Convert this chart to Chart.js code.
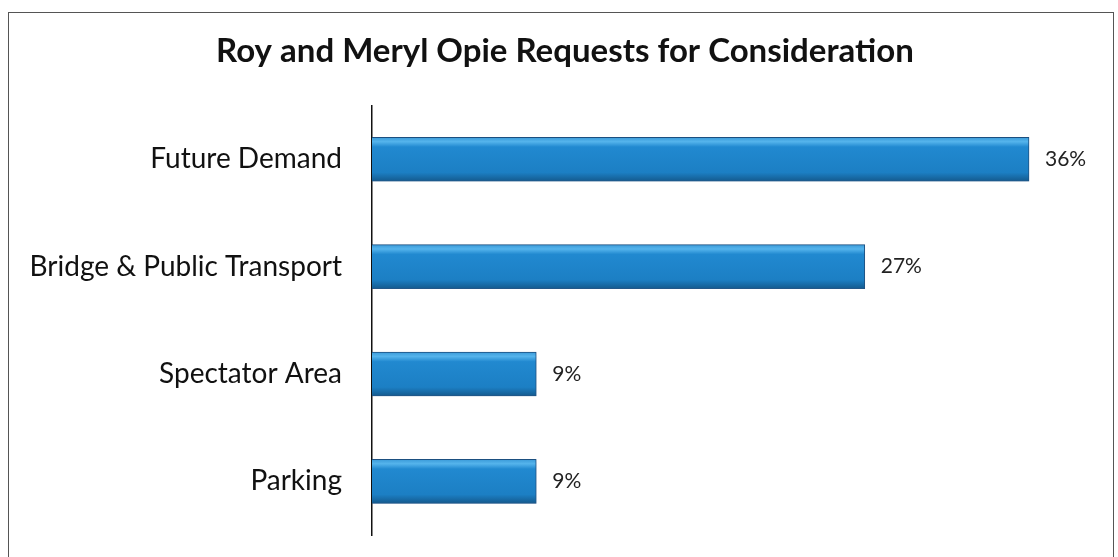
<!DOCTYPE html>
<html>
<head>
<meta charset="utf-8">
<script src="https://cdn.jsdelivr.net/npm/chart.js@4.4.0/dist/chart.umd.min.js"></script>
<style>
  html,body{margin:0;padding:0;background:#fff;}
  #wrap{position:relative;width:1118px;height:557px;overflow:hidden;}
  #frame{position:absolute;left:8px;top:12px;width:1106px;height:600px;border:1px solid #555;box-sizing:border-box;}
  canvas{position:absolute;left:0;top:0;}
</style>
</head>
<body>
<div id="wrap">
  <div id="frame"></div>
  <canvas id="c" width="1118" height="557"></canvas>
</div>
<script>
const titleText = "Roy and Meryl Opie Requests for Consideration";
const categories = ["Future Demand", "Bridge & Public Transport", "Spectator Area", "Parking"];
const values = [36, 27, 9, 9];
const valueLabels = ["36%", "27%", "9%", "9%"];
const axisMax = 40;

const FONT = "Lato, 'Open Sans', sans-serif";
const BAR_H = 44;

const barFill = (ctx) => {
  const chart = ctx.chart;
  const ys = chart.scales && chart.scales.y;
  if (!ys || ctx.dataIndex === undefined) return '#1f82c8';
  const cy = ys.getPixelForValue(ctx.dataIndex);
  if (!isFinite(cy)) return '#1f82c8';
  const top = cy - BAR_H / 2, bot = cy + BAR_H / 2;
  const g = chart.ctx.createLinearGradient(0, top, 0, bot);
  g.addColorStop(0, '#3a9ad8');
  g.addColorStop(0.1, '#55b4ec');
  g.addColorStop(0.22, '#2189d0');
  g.addColorStop(0.8, '#1c7fc4');
  g.addColorStop(1, '#145a8e');
  return g;
};

const labelPlugin = {
  id: 'valueLabels',
  afterDatasetsDraw(chart) {
    const ctx = chart.ctx;
    const meta = chart.getDatasetMeta(0);
    ctx.save();
    ctx.font = "21px " + FONT;
    ctx.fillStyle = '#222';
    ctx.textBaseline = 'middle';
    ctx.textAlign = 'left';
    meta.data.forEach((bar, i) => {
      ctx.fillText(valueLabels[i], bar.x + 16, bar.y);
    });
    ctx.restore();
  }
};

const shadowPlugin = {
  id: 'barShadow',
  beforeDatasetsDraw(chart) {
    const ctx = chart.ctx;
    ctx.save();
    ctx.shadowColor = 'rgba(60,110,160,0.35)';
    ctx.shadowBlur = 3;
    ctx.shadowOffsetY = 2;
  },
  afterDatasetsDraw(chart) {
    chart.ctx.restore();
  }
};

new Chart(document.getElementById('c'), {
  type: 'bar',
  data: {
    labels: categories,
    datasets: [{
      data: values,
      backgroundColor: barFill,
      borderColor: '#1b4f80',
      borderWidth: 1,
      borderSkipped: 'left',
      barThickness: BAR_H
    }]
  },
  options: {
    indexAxis: 'y',
    responsive: false,
    animation: false,
    layout: { padding: { top: 32, right: 16, bottom: 22, left: 28 } },
    plugins: {
      legend: { display: false },
      tooltip: { enabled: false },
      title: {
        display: true,
        text: titleText,
        color: '#111',
        font: { family: FONT, size: 33, weight: 'bold', lineHeight: 1.2 },
        padding: { top: 0, bottom: 34 }
      }
    },
    scales: {
      x: {
        display: false,
        min: 0,
        max: axisMax
      },
      y: {
        grid: { display: false },
        border: { display: true, color: '#111', width: 1.5 },
        ticks: {
          color: '#111',
          padding: 22,
          font: { family: FONT, size: 28 }
        },
        afterFit(scale) {
          scale.width = 344;
          scale.paddingTop = 0;
          scale.paddingBottom = 0;
        }
      }
    }
  },
  plugins: [shadowPlugin, labelPlugin]
});
</script>
</body>
</html>
